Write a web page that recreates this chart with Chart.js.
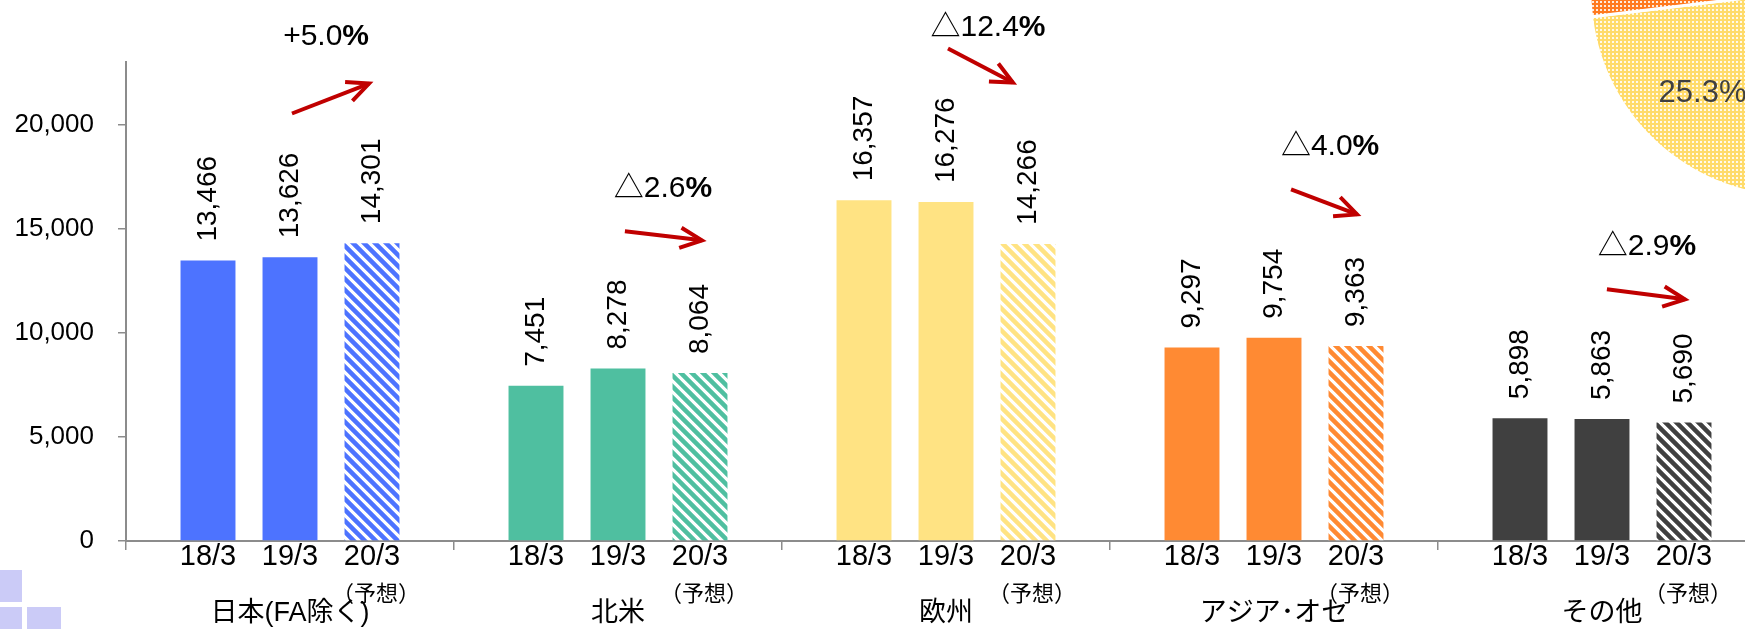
<!DOCTYPE html>
<html><head><meta charset="utf-8">
<script src="https://cdn.jsdelivr.net/npm/chart.js@4.4.1/dist/chart.umd.min.js"></script>
<style>
html,body{margin:0;padding:0;overflow:hidden;background:#fff;width:1745px;height:629px;position:relative;}
#wrap{position:absolute;left:0;top:0;width:1780px;height:629px;}
#pieWrap{position:absolute;left:1575px;top:-228px;width:440px;height:440px;}
.sq{position:absolute;background:#cbcbf7;}
</style></head><body>
<div class="sq" style="left:0;top:570px;width:22px;height:32px"></div>
<div class="sq" style="left:0;top:607px;width:22px;height:22px"></div>
<div class="sq" style="left:27px;top:607px;width:34px;height:22px"></div>
<div id="pieWrap"><canvas id="pie"></canvas></div>
<div id="wrap"><canvas id="c"></canvas></div>
<script>
// ---- data ----
const categories = ['日本(FA除く)', '北米', '欧州', 'アジア･オセ', 'その他'];
const periods = ['18/3', '19/3', '20/3'];
const periodNotes = ['', '', '（予想）'];
const values1803 = [13466, 7451, 16357, 9297, 5898];
const values1903 = [13626, 8278, 16276, 9754, 5863];
const values2003 = [14301, 8064, 14266, 9363, 5690];
const changeLabels = ['+5.0', '△2.6', '△12.4', '△4.0', '△2.9'];
const yTicks = [0, 5000, 10000, 15000, 20000];
const pieLabels = ['欧州', 'アジア・オセアニア', 'その他'];
const pieShares = [25.3, 18.1, 56.6];

// ---- styles / layout ----
const regionColors = ['#4d73ff', '#4fbfa0', '#ffe383', '#ff8a33', '#404040'];
const LATIN = "'Liberation Sans', Arial, 'Noto Sans CJK JP', sans-serif";
const CJK = "'Noto Sans CJK JP', sans-serif";
// annotation anchors in scale units (x: category index, y: value)
const annoLayout = [
  {tx:0.110, ty:24220, ax0:0.006, ay0:20527, ax1:0.241, ay1:21966},
  {tx:1.137, ty:16930, ax0:1.021, ay0:14868, ax1:1.256, ay1:14436},
  {tx:2.128, ty:24651, ax0:2.006, ay0:23644, ax1:2.204, ay1:22014},
  {tx:3.171, ty:18944, ax0:3.052, ay0:16882, ax1:3.253, ay1:15683},
  {tx:4.137, ty:14148, ax0:4.015, ay0:12086, ax1:4.253, ay1:11606}
];

function stripe(color){
  const s = 11, c = document.createElement('canvas');
  c.width = s; c.height = s;
  const g = c.getContext('2d');
  g.fillStyle = '#fff'; g.fillRect(0,0,s,s);
  g.strokeStyle = color; g.lineWidth = 4.5;
  g.beginPath();
  for (let k=-1;k<=1;k++){ g.moveTo(k*s-3, -3); g.lineTo(k*s+s+3, s+3); }
  g.stroke();
  return g.createPattern(c, 'repeat');
}
function dots(color){
  const s = 4, c = document.createElement('canvas');
  c.width = s; c.height = s;
  const g = c.getContext('2d');
  g.fillStyle = color; g.fillRect(0,0,s,s);
  g.fillStyle = 'rgba(255,255,255,0.85)'; g.fillRect(1,1,2,2);
  return g.createPattern(c, 'repeat');
}

const seriesValues = [values1803, values1903, values2003];
const datasets = seriesValues.map((vals, i) => ({
  label: periods[i],
  data: vals,
  backgroundColor: i < 2 ? regionColors : regionColors.map(stripe),
  borderWidth: 0
}));

function drawArrow(ctx, x0, y0, x1, y1){
  const a = Math.atan2(y1-y0, x1-x0), L = 24, h = 25*Math.PI/180;
  ctx.save();
  ctx.strokeStyle = '#c00000'; ctx.lineWidth = 4; ctx.lineCap = 'butt'; ctx.lineJoin = 'miter';
  ctx.beginPath(); ctx.moveTo(x0, y0); ctx.lineTo(x1, y1); ctx.stroke();
  ctx.beginPath();
  ctx.moveTo(x1 - L*Math.cos(a-h), y1 - L*Math.sin(a-h));
  ctx.lineTo(x1, y1);
  ctx.lineTo(x1 - L*Math.cos(a+h), y1 - L*Math.sin(a+h));
  ctx.stroke();
  ctx.restore();
}

const labelPlugin = {
  id: 'labels',
  afterDatasetsDraw(chart){
    const ctx = chart.ctx;
    const xs = chart.scales.x, ys = chart.scales.y;
    ctx.save();
    chart.data.datasets.forEach((ds, i) => {
      const meta = chart.getDatasetMeta(i);
      meta.data.forEach((bar, j) => {
        ctx.save();
        ctx.translate(bar.x, bar.y - 19);
        ctx.rotate(-Math.PI/2);
        ctx.font = '28px ' + LATIN;
        ctx.fillStyle = '#000';
        ctx.textAlign = 'left'; ctx.textBaseline = 'middle';
        ctx.fillText(ds.data[j].toLocaleString('en-US'), 0, 0);
        ctx.restore();
        ctx.font = '29px ' + LATIN;
        ctx.fillStyle = '#000';
        ctx.textAlign = 'center'; ctx.textBaseline = 'alphabetic';
        ctx.fillText(periods[i], bar.x, ys.bottom + 24);
        if (periodNotes[i]) {
          ctx.font = '22px ' + CJK;
          ctx.textBaseline = 'middle';
          ctx.fillText(periodNotes[i], bar.x + 4, ys.bottom + 52);
        }
      });
    });
    annoLayout.forEach((p, k) => {
      const tx = xs.getPixelForValue(p.tx), ty = ys.getPixelForValue(p.ty);
      const main = changeLabels[k];
      ctx.font = '30px ' + LATIN;
      const w1 = ctx.measureText(main).width;
      ctx.font = 'bold 30px ' + LATIN;
      const w2 = ctx.measureText('%').width;
      const sx = tx - (w1 + w2)/2;
      ctx.fillStyle = '#000'; ctx.textAlign = 'left'; ctx.textBaseline = 'middle';
      ctx.font = '30px ' + LATIN;
      ctx.fillText(main, sx, ty);
      ctx.font = 'bold 30px ' + LATIN;
      ctx.fillText('%', sx + w1, ty);
      drawArrow(ctx, xs.getPixelForValue(p.ax0), ys.getPixelForValue(p.ay0),
                     xs.getPixelForValue(p.ax1), ys.getPixelForValue(p.ay1));
    });
    ctx.restore();
  }
};

new Chart(document.getElementById('c'), {
  type: 'bar',
  data: { labels: categories, datasets },
  options: {
    responsive: true, maintainAspectRatio: false, animation: false,
    devicePixelRatio: 1,
    layout: { padding: { left: 15, right: 14, top: 62, bottom: 0 } },
    plugins: { legend: { display: false }, tooltip: { enabled: false } },
    datasets: { bar: { categoryPercentage: 0.75, barPercentage: 0.67 } },
    scales: {
      x: {
        offset: true,
        afterFit: s => { s.height = 88; },
        grid: { offset: true, drawOnChartArea: false, drawTicks: true, tickLength: 9, color: '#8c8c8c', lineWidth: 1.5 },
        border: { color: '#8c8c8c', width: 2 },
        ticks: { font: { family: LATIN, size: 27, lineHeight: 1.2 }, color: '#000', padding: 47, maxRotation: 0, autoSkip: false }
      },
      y: {
        min: 0, max: 23000,
        afterBuildTicks: s => { s.ticks = yTicks.map(v => ({ value: v })); },
        afterFit: s => { s.width = 111; },
        grid: { drawOnChartArea: false, drawTicks: true, tickLength: 8, color: '#8c8c8c', lineWidth: 1.5 },
        border: { color: '#8c8c8c', width: 2 },
        ticks: { font: { family: LATIN, size: 26 }, color: '#000', padding: 24,
                 callback: v => Number(v).toLocaleString('en-US') }
      }
    }
  },
  plugins: [labelPlugin]
});

const pieLabelPlugin = {
  id: 'pieLabel',
  afterDatasetsDraw(chart){
    const arc = chart.getDatasetMeta(0).data[0];
    const mid = (arc.startAngle + arc.endAngle)/2, r = arc.outerRadius*0.66;
    const ctx = chart.ctx;
    ctx.save();
    ctx.font = '31px ' + LATIN;
    ctx.fillStyle = '#404040'; ctx.textAlign = 'center'; ctx.textBaseline = 'middle';
    ctx.fillText(pieShares[0].toFixed(1) + '%', arc.x + Math.cos(mid)*r - 10, arc.y + Math.sin(mid)*r - 6);
    ctx.restore();
  }
};

new Chart(document.getElementById('pie'), {
  type: 'pie',
  data: { labels: pieLabels, datasets: [{
    data: pieShares,
    backgroundColor: [dots('#ffdb6a'), dots('#ff7a1f'), dots('#9aa0b8')],
    borderColor: '#fff', borderWidth: 3,
    rotation: 172, radius: 205
  }] },
  options: {
    responsive: true, maintainAspectRatio: false, animation: false, devicePixelRatio: 1,
    layout: { padding: 0 },
    plugins: { legend: { display: false }, tooltip: { enabled: false } }
  },
  plugins: [pieLabelPlugin]
});
</script>
</body></html>
